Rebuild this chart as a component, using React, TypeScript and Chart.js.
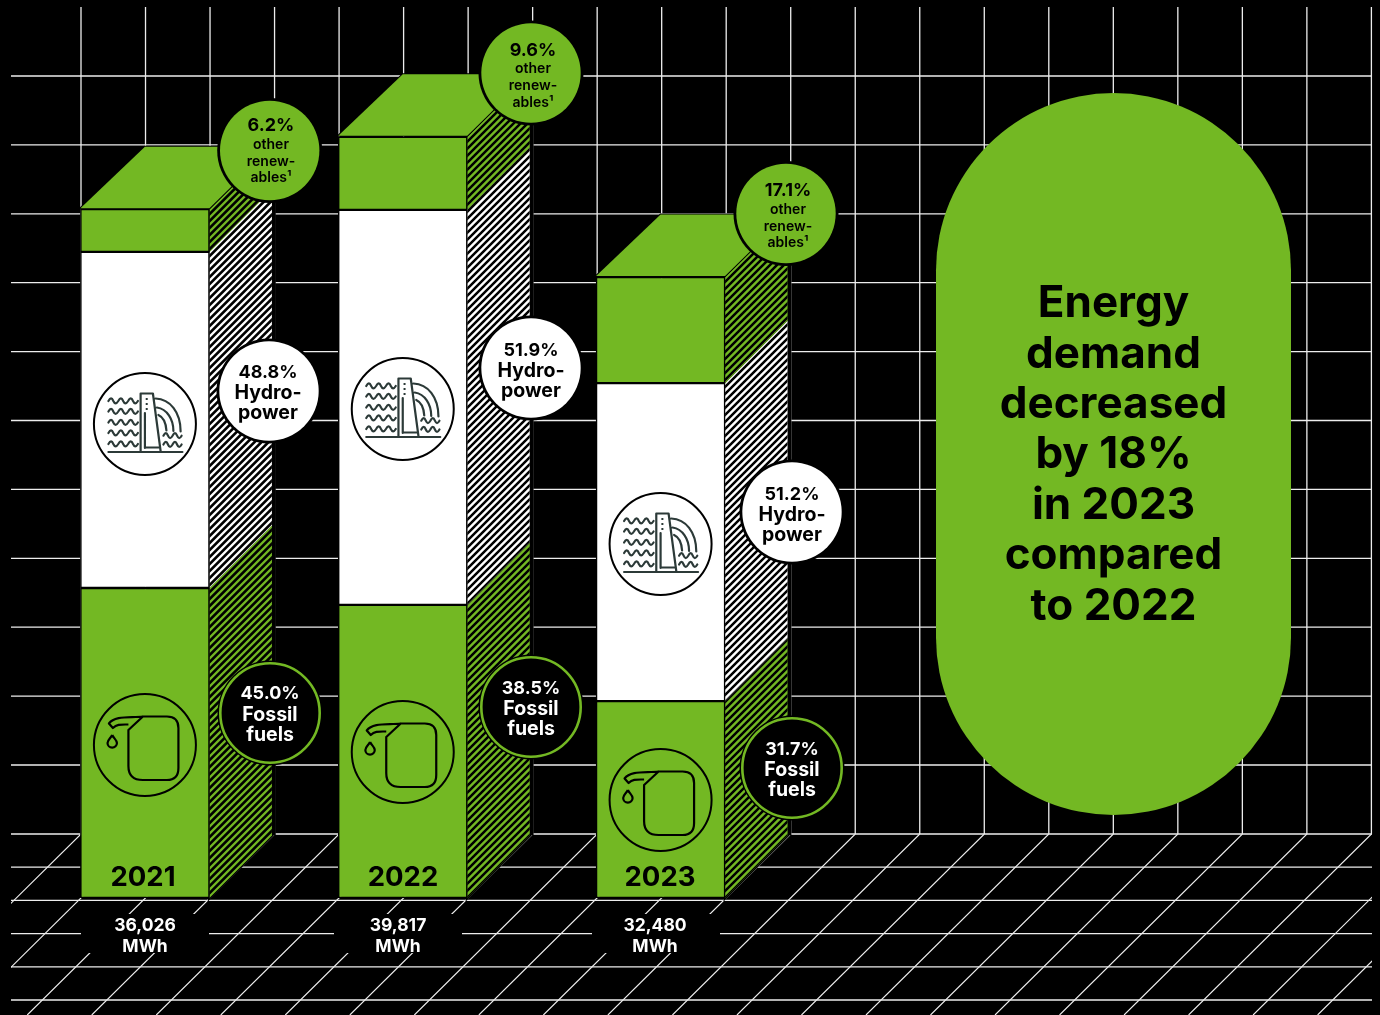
import React, { useEffect, useRef } from "react";
import Chart from "chart.js/auto";

// Annual energy demand and its split by source
const years = ["2021", "2022", "2023"];
const totalMWh = [36026, 39817, 32480];
const fossilShare = [45.0, 38.5, 31.7];
const hydroShare = [48.8, 51.9, 51.2];
const otherShare = [6.2, 9.6, 17.1];

const totalLabels = ["36,026", "39,817", "32,480"];
const headline = ["Energy", "demand", "decreased", "by 18%", "in 2023", "compared", "to 2022"];

const GREEN = "#73B823";
const WHITE = "#FFFFFF";
const BLACK = "#000000";
const FONT = "Inter, 'Noto Sans', sans-serif";

// Scene layout, in canvas pixels
const DEPTH = 62.5;
const GRID = { left: 11, right: 1372, top: 7, floor: 834, bottom: 1015, colX: 81, colStep: 64.52, rowY: 76, rowStep: 68.9 };
const FLOOR_ROWS = [834, 867.2, 900.4, 933.6, 966.8, 1000];
const BADGE_R = 49.7;
const ICON_R = 51;
const otherBadge = [{ x: 269.7, y: 150.5, lines: [126, 145, 162, 178], tx: 271 }, { x: 531, y: 73, lines: [51, 69, 86, 103], tx: 533 }, { x: 786, y: 213.5, lines: [191, 210, 227, 243], tx: 788 }];
const hydroBadge = [{ x: 269, y: 391, lines: [373, 393, 413], tx: 268 }, { x: 531, y: 368, lines: [351, 371, 391], tx: 531 }, { x: 792, y: 512, lines: [495, 515, 535], tx: 792 }];
const fossilBadge = [{ x: 270, y: 713, lines: [694, 715, 735], tx: 270 }, { x: 531, y: 707, lines: [689, 709, 729], tx: 531 }, { x: 792, y: 768, lines: [750, 770, 790], tx: 792 }];
const hydroIconY = [424, 409, 544];
const fossilIconY = [745, 752, 800];
const yearLabelX = [143, 403, 660];
const totalLabelX = [145, 398, 655];
const totalBoxX = [81, 334, 592];

function drawGrid(ctx: CanvasRenderingContext2D) {
  ctx.save();
  ctx.strokeStyle = "#EDEDED";
  ctx.lineWidth = 1.3;
  ctx.beginPath();
  for (let k = 0; k <= 20; k++) {
    const x = GRID.colX + GRID.colStep * k;
    ctx.moveTo(x, GRID.top);
    ctx.lineTo(x, GRID.floor);
  }
  for (let k = 0; k <= 10; k++) {
    const y = GRID.rowY + GRID.rowStep * k;
    ctx.moveTo(GRID.left, y);
    ctx.lineTo(GRID.right, y);
  }
  for (const y of FLOOR_ROWS) {
    ctx.moveTo(GRID.left, y);
    ctx.lineTo(GRID.right, y);
  }
  ctx.stroke();
  ctx.beginPath();
  ctx.rect(GRID.left, GRID.floor, GRID.right - GRID.left, GRID.bottom - GRID.floor);
  ctx.clip();
  ctx.lineWidth = 1.15;
  ctx.beginPath();
  const run = GRID.bottom - GRID.floor;
  for (let k = 0; k <= 24; k++) {
    const x = GRID.colX + GRID.colStep * k;
    ctx.moveTo(x, GRID.floor);
    ctx.lineTo(x - run * 1.01, GRID.bottom);
  }
  ctx.stroke();
  ctx.restore();
}

function drawDepth(chart: any) {
  const ctx: CanvasRenderingContext2D = chart.ctx;
  years.forEach((_, j) => {
    const bottom = chart.getDatasetMeta(0).data[j];
    const top = chart.getDatasetMeta(2).data[j];
    const left = top.x - top.width / 2;
    const right = top.x + top.width / 2;

    // Black halo that separates the block from the grid behind it
    ctx.save();
    ctx.beginPath();
    ctx.moveTo(right, top.y);
    ctx.lineTo(right + DEPTH, top.y - DEPTH);
    ctx.lineTo(right + DEPTH, bottom.base - DEPTH);
    ctx.lineTo(right, bottom.base);
    ctx.closePath();
    ctx.fillStyle = BLACK;
    ctx.strokeStyle = BLACK;
    ctx.lineWidth = 3;
    ctx.fill();
    ctx.stroke();
    ctx.fillRect(right + DEPTH, top.y - DEPTH, 3.8, bottom.base - top.y);
    ctx.restore();

    // Hatched side, one band per source
    chart.data.datasets.forEach((ds: any, i: number) => {
      const el = chart.getDatasetMeta(i).data[j];
      ctx.save();
      ctx.beginPath();
      ctx.moveTo(right, el.y);
      ctx.lineTo(right + DEPTH, el.y - DEPTH);
      ctx.lineTo(right + DEPTH, el.base - DEPTH);
      ctx.lineTo(right, el.base);
      ctx.closePath();
      ctx.fillStyle = ds.backgroundColor;
      ctx.fill();
      ctx.clip();
      ctx.strokeStyle = BLACK;
      ctx.lineWidth = 2.5;
      ctx.beginPath();
      for (let c = top.y - 2; c < bottom.base + DEPTH + 6; c += 7) {
        ctx.moveTo(right - 2, c + 2);
        ctx.lineTo(right + DEPTH + 2, c - DEPTH - 2);
      }
      ctx.stroke();
      ctx.restore();
    });

    // Roof of the block
    ctx.save();
    ctx.beginPath();
    ctx.moveTo(left, top.y - 1);
    ctx.lineTo(left + DEPTH + 2, top.y - DEPTH);
    ctx.lineTo(right + DEPTH, top.y - DEPTH);
    ctx.lineTo(right, top.y - 1);
    ctx.closePath();
    ctx.fillStyle = GREEN;
    ctx.strokeStyle = BLACK;
    ctx.lineWidth = 2;
    ctx.stroke();
    ctx.fill();
    ctx.restore();
  });
}

function wave(ctx: CanvasRenderingContext2D, x0: number, x1: number, y: number, humps: number) {
  const step = (x1 - x0) / humps;
  ctx.moveTo(x0, y);
  for (let h = 0; h < humps; h++) {
    const a = x0 + step * h;
    ctx.bezierCurveTo(a + step * 0.2, y - 3.4, a + step * 0.35, y - 3.4, a + step * 0.5, y);
    ctx.bezierCurveTo(a + step * 0.65, y + 3.2, a + step * 0.8, y + 3.2, a + step, y);
  }
}

function iconRing(ctx: CanvasRenderingContext2D, x: number, y: number) {
  ctx.beginPath();
  ctx.arc(x, y, ICON_R, 0, Math.PI * 2);
  ctx.strokeStyle = BLACK;
  ctx.lineWidth = 2;
  ctx.stroke();
}

function hydroIcon(ctx: CanvasRenderingContext2D, cx: number, cy: number) {
  iconRing(ctx, cx, cy);
  ctx.save();
  ctx.translate(cx, cy);
  ctx.strokeStyle = "#2C3A38";
  ctx.lineWidth = 2.2;
  ctx.lineJoin = "round";
  ctx.lineCap = "round";
  ctx.beginPath();
  // Dam wall and its foot
  ctx.moveTo(-4.3, 27);
  ctx.lineTo(-4.3, -30.5);
  ctx.lineTo(8, -30.5);
  ctx.lineTo(15.7, 27);
  ctx.moveTo(0, 23.5);
  ctx.lineTo(13.5, 23.5);
  ctx.moveTo(0, 24);
  ctx.lineTo(0, -11);
  ctx.moveTo(-36.5, 28);
  ctx.lineTo(37.5, 28);
  // Reservoir
  for (const y of [-23, -12.5, -1.5, 9, 20]) wave(ctx, -36.5, -7, y, 3);
  // Tailwater
  for (const y of [11.7, 20.5]) wave(ctx, 18.5, 36.7, y, 2);
  // Spillway jets
  ctx.moveTo(10.7, -25.5);
  ctx.bezierCurveTo(25, -25, 35.7, -12, 35.7, 7.5);
  ctx.moveTo(12, -16.5);
  ctx.bezierCurveTo(22, -15, 28.5, -5, 28.5, 7);
  ctx.moveTo(13.5, -9);
  ctx.bezierCurveTo(18, -7, 21, -1, 21.5, 6.5);
  ctx.stroke();
  ctx.fillStyle = "#2C3A38";
  for (const y of [-26, -21, -16]) ctx.fillRect(0.8, y, 2, 2);
  ctx.restore();
}

function fossilIcon(ctx: CanvasRenderingContext2D, cx: number, cy: number) {
  iconRing(ctx, cx, cy);
  ctx.save();
  ctx.translate(cx, cy);
  ctx.strokeStyle = BLACK;
  ctx.lineWidth = 2.2;
  ctx.lineJoin = "round";
  ctx.beginPath();
  // Canister
  ctx.moveTo(-2, -28.5);
  ctx.lineTo(22, -28.5);
  ctx.quadraticCurveTo(33.5, -28.5, 33.5, -17);
  ctx.lineTo(33.5, 23);
  ctx.quadraticCurveTo(33.5, 35, 22, 35);
  ctx.lineTo(-2, 35);
  ctx.quadraticCurveTo(-16.5, 35, -16.5, 21);
  ctx.lineTo(-16.5, -15);
  ctx.closePath();
  // Spout
  ctx.moveTo(-2, -28.5);
  ctx.bezierCurveTo(-14, -27, -30, -30, -36, -21.5);
  ctx.lineTo(-32, -17);
  ctx.bezierCurveTo(-28, -21, -24, -20.5, -16.5, -20.5);
  ctx.stroke();
  // Drip
  ctx.beginPath();
  ctx.moveTo(-32.7, -10);
  ctx.bezierCurveTo(-31.5, -7, -28, -5, -28, -2);
  ctx.arc(-32.7, -2, 4.7, 0, Math.PI);
  ctx.bezierCurveTo(-37.4, -5, -34, -7, -32.7, -10);
  ctx.stroke();
  ctx.restore();
}

function badge(ctx: CanvasRenderingContext2D, x: number, y: number, fill: string, ring: string | null) {
  ctx.beginPath();
  ctx.arc(x, y, BADGE_R + 2.8, 0, Math.PI * 2);
  ctx.fillStyle = BLACK;
  ctx.fill();
  ctx.beginPath();
  ctx.arc(x, y, BADGE_R, 0, Math.PI * 2);
  ctx.fillStyle = fill;
  ctx.fill();
  if (ring) {
    ctx.strokeStyle = ring;
    ctx.lineWidth = 2.6;
    ctx.stroke();
  }
}

function text(ctx: CanvasRenderingContext2D, value: string, x: number, y: number, font: string, color: string) {
  ctx.font = font;
  ctx.fillStyle = color;
  ctx.textAlign = "center";
  ctx.textBaseline = "middle";
  ctx.fillText(value, x, y);
}

function drawAnnotations(chart: any) {
  const ctx: CanvasRenderingContext2D = chart.ctx;
  const x = chart.scales.x;
  const pct = `700 18px ${FONT}`;
  const big = `700 19.5px ${FONT}`;
  const small = `600 14px ${FONT}`;

  years.forEach((year, j) => {
    const cx = x.getPixelForValue(j);

    // Total under each block, on a patch that interrupts the floor grid
    ctx.fillStyle = BLACK;
    ctx.fillRect(totalBoxX[j], 914, 128, 39);
    text(ctx, totalLabels[j], totalLabelX[j], 926, `700 17.5px ${FONT}`, WHITE);
    text(ctx, "MWh", totalLabelX[j], 947, `700 17.5px ${FONT}`, WHITE);
    text(ctx, year, yearLabelX[j], 878, `700 27.5px ${FONT}`, BLACK);

    hydroIcon(ctx, cx, hydroIconY[j]);
    fossilIcon(ctx, cx, fossilIconY[j]);

    const o = otherBadge[j];
    badge(ctx, o.x, o.y, GREEN, null);
    text(ctx, `${otherShare[j].toFixed(1)}%`, o.tx, o.lines[0], pct, BLACK);
    ["other", "renew-", "ables\u00B9"].forEach((t, n) => text(ctx, t, o.tx, o.lines[n + 1], small, BLACK));

    const h = hydroBadge[j];
    badge(ctx, h.x, h.y, WHITE, null);
    text(ctx, `${hydroShare[j].toFixed(1)}%`, h.tx, h.lines[0], pct, BLACK);
    ["Hydro-", "power"].forEach((t, n) => text(ctx, t, h.tx, h.lines[n + 1], big, BLACK));

    const f = fossilBadge[j];
    badge(ctx, f.x, f.y, BLACK, GREEN);
    text(ctx, `${fossilShare[j].toFixed(1)}%`, f.tx, f.lines[0], pct, WHITE);
    ["Fossil", "fuels"].forEach((t, n) => text(ctx, t, f.tx, f.lines[n + 1], big, WHITE));
  });

  // Headline capsule
  ctx.beginPath();
  ctx.roundRect(936, 93, 355, 722, 177.5);
  ctx.fillStyle = GREEN;
  ctx.fill();
  headline.forEach((line, n) => {
    text(ctx, line, 1113.5, 304 + n * 50.4, `700 44px ${FONT}`, BLACK);
  });
}

const scenePlugin = {
  id: "scene",
  beforeDraw(chart: any) {
    const ctx = chart.ctx;
    ctx.fillStyle = BLACK;
    ctx.fillRect(0, 0, chart.width, chart.height);
    drawGrid(ctx);
  },
  beforeDatasetsDraw: drawDepth,
  afterDatasetsDraw: drawAnnotations,
};

export default function App() {
  const ref = useRef<HTMLCanvasElement>(null);

  useEffect(() => {
    const series = (share: number[]) => share.map((s, i) => (totalMWh[i] * s) / 100);
    const segment = (label: string, share: number[], color: string) => ({
      label,
      data: series(share),
      backgroundColor: color,
      borderColor: BLACK,
      borderWidth: 1.5,
      borderSkipped: false,
      barThickness: 129,
    });
    const chart = new Chart(ref.current!, {
      type: "bar",
      data: {
        labels: years,
        datasets: [
          segment("Fossil fuels", fossilShare, GREEN),
          segment("Hydropower", hydroShare, WHITE),
          segment("Other renewables", otherShare, GREEN),
        ],
      },
      options: {
        responsive: false,
        animation: false,
        layout: { padding: { left: 16, right: 590.5, top: 18.5, bottom: 117 } },
        plugins: { legend: { display: false }, tooltip: { enabled: false } },
        scales: {
          x: { stacked: true, display: false },
          y: { stacked: true, display: false, min: 0, max: 46000 },
        },
      },
      plugins: [scenePlugin],
    });
    return () => chart.destroy();
  }, []);

  return (
    <div style={{ position: "fixed", inset: 0, background: BLACK }}>
      <canvas ref={ref} width={1380} height={1015} style={{ display: "block" }} />
    </div>
  );
}
